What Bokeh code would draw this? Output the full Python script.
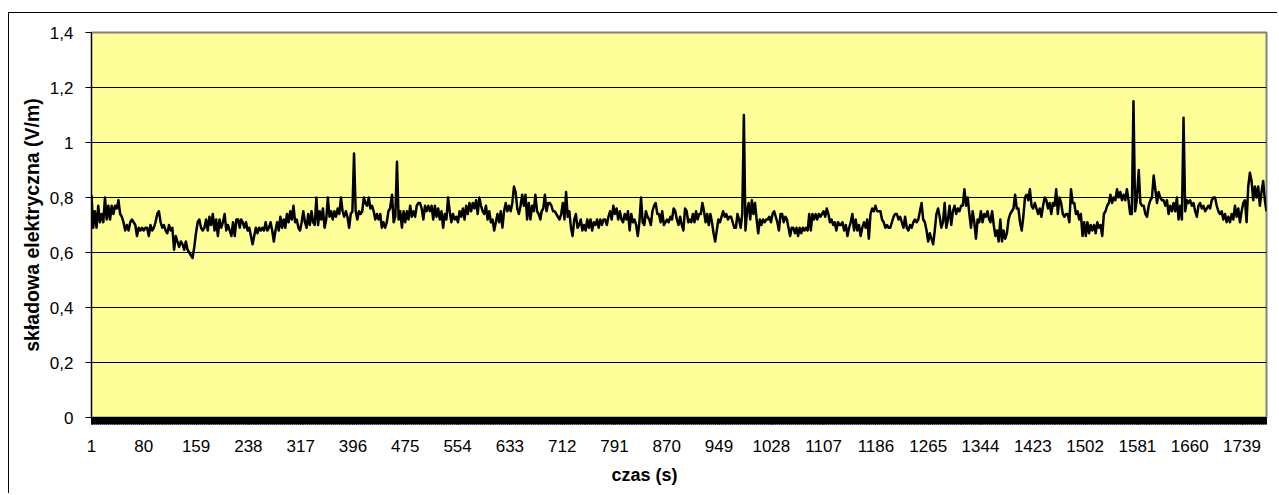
import numpy as np
from bokeh.plotting import figure
from bokeh.models import Range1d, FixedTicker, Title, CustomJSTickFormatter
from bokeh.embed import file_html
from bokeh.resources import INLINE

# ---- data: electric field component (V/m) vs time (s), read in segments ----
seg_a_range = (1, 225)
seg_a = [0.81, 0.69, 0.75, 0.69, 0.77, 0.71, 0.74, 0.71, 0.80, 0.72,
         0.77, 0.72, 0.77, 0.74, 0.77, 0.76, 0.79, 0.74, 0.73, 0.71,
         0.68, 0.70, 0.68, 0.71, 0.72, 0.71, 0.70, 0.66, 0.69, 0.68,
         0.69, 0.68, 0.69, 0.69, 0.66, 0.70, 0.68, 0.69, 0.71, 0.74,
         0.75, 0.71, 0.69, 0.70, 0.68, 0.67, 0.70, 0.68, 0.69, 0.61,
         0.66, 0.64, 0.62, 0.64, 0.63, 0.61, 0.64, 0.61, 0.60, 0.59,
         0.58, 0.62, 0.67, 0.71, 0.72, 0.69, 0.68, 0.69, 0.72, 0.68,
         0.73, 0.70, 0.74, 0.68, 0.72, 0.66, 0.72, 0.69, 0.71, 0.74,
         0.68, 0.70, 0.68, 0.66, 0.71, 0.66, 0.72, 0.72, 0.69]

seg_b_range = (227, 452)
seg_b = [0.72, 0.71, 0.69, 0.71, 0.68, 0.69, 0.66, 0.63, 0.66, 0.69,
         0.67, 0.69, 0.68, 0.69, 0.68, 0.71, 0.68, 0.69, 0.71, 0.68,
         0.64, 0.68, 0.71, 0.68, 0.73, 0.69, 0.72, 0.69, 0.74, 0.71,
         0.75, 0.72, 0.77, 0.71, 0.72, 0.69, 0.68, 0.71, 0.75, 0.71,
         0.69, 0.74, 0.70, 0.75, 0.71, 0.70, 0.80, 0.70, 0.75, 0.72,
         0.76, 0.69, 0.72, 0.80, 0.73, 0.75, 0.72, 0.75, 0.73, 0.76,
         0.74, 0.80, 0.75, 0.73, 0.75, 0.73, 0.69, 0.74, 0.75, 0.96,
         0.75, 0.72, 0.75, 0.74, 0.75, 0.80, 0.78, 0.77, 0.80, 0.76,
         0.77, 0.75, 0.72, 0.74, 0.72, 0.74, 0.69, 0.71, 0.69, 0.71,
         0.75, 0.76]

seg_c_range = (455, 679)
seg_c = [0.81, 0.71, 0.73, 0.93, 0.72, 0.75, 0.69, 0.75, 0.71, 0.75,
         0.72, 0.77, 0.73, 0.75, 0.73, 0.77, 0.78, 0.78, 0.76, 0.72,
         0.77, 0.75, 0.77, 0.75, 0.77, 0.72, 0.77, 0.73, 0.76, 0.72,
         0.75, 0.69, 0.74, 0.72, 0.80, 0.75, 0.71, 0.74, 0.72, 0.73,
         0.71, 0.75, 0.73, 0.76, 0.72, 0.77, 0.74, 0.78, 0.75, 0.78,
         0.76, 0.79, 0.74, 0.80, 0.77, 0.75, 0.74, 0.77, 0.72, 0.75,
         0.71, 0.72, 0.68, 0.71, 0.74, 0.71, 0.75, 0.69, 0.75, 0.78,
         0.75, 0.77, 0.75, 0.78, 0.84, 0.82, 0.76, 0.74, 0.77, 0.81,
         0.77, 0.81, 0.72, 0.78, 0.72, 0.77, 0.75, 0.81, 0.75, 0.74,
         0.72]

seg_d_range = (681, 905)
seg_d = [0.75, 0.76, 0.81, 0.75, 0.78, 0.78, 0.77, 0.75, 0.75, 0.74,
         0.73, 0.72, 0.74, 0.78, 0.72, 0.82, 0.73, 0.75, 0.69, 0.66,
         0.72, 0.74, 0.69, 0.70, 0.72, 0.68, 0.70, 0.68, 0.72, 0.69,
         0.72, 0.68, 0.71, 0.70, 0.72, 0.69, 0.72, 0.70, 0.72, 0.72,
         0.70, 0.73, 0.75, 0.72, 0.77, 0.74, 0.76, 0.72, 0.75, 0.72,
         0.71, 0.74, 0.72, 0.75, 0.68, 0.74, 0.71, 0.72, 0.70, 0.66,
         0.71, 0.80, 0.71, 0.70, 0.75, 0.73, 0.72, 0.70, 0.75, 0.77,
         0.78, 0.74, 0.74, 0.71, 0.75, 0.70, 0.71, 0.72, 0.71, 0.73,
         0.72, 0.76, 0.75, 0.72, 0.70, 0.73, 0.70, 0.68, 0.76, 0.75,
         0.71, 0.72]

seg_e_range = (907, 1131)
seg_e = [0.71, 0.74, 0.71, 0.75, 0.72, 0.74, 0.74, 0.78, 0.75, 0.71,
         0.74, 0.70, 0.74, 0.71, 0.67, 0.64, 0.68, 0.72, 0.71, 0.73,
         0.75, 0.73, 0.74, 0.72, 0.73, 0.73, 0.71, 0.69, 0.69, 0.74,
         0.72, 0.69, 0.74, 1.10, 0.68, 0.75, 0.78, 0.72, 0.79, 0.74,
         0.78, 0.72, 0.67, 0.72, 0.70, 0.72, 0.71, 0.72, 0.72, 0.73,
         0.71, 0.74, 0.75, 0.73, 0.71, 0.68, 0.74, 0.74, 0.71, 0.73,
         0.72, 0.69, 0.66, 0.69, 0.69, 0.67, 0.69, 0.66, 0.69, 0.67,
         0.69, 0.68, 0.69, 0.68, 0.74, 0.68, 0.74, 0.72, 0.74, 0.72,
         0.74, 0.73, 0.74, 0.75, 0.73, 0.76, 0.74, 0.71, 0.72, 0.70,
         0.71, 0.68, 0.71, 0.70]

seg_f_range = (1133, 1357)
seg_f = [0.70, 0.71, 0.68, 0.70, 0.66, 0.69, 0.71, 0.74, 0.68, 0.72,
         0.68, 0.70, 0.66, 0.69, 0.71, 0.69, 0.72, 0.65, 0.74, 0.76,
         0.75, 0.77, 0.75, 0.75, 0.75, 0.72, 0.71, 0.69, 0.70, 0.69,
         0.69, 0.71, 0.73, 0.74, 0.74, 0.72, 0.73, 0.71, 0.69, 0.73,
         0.69, 0.68, 0.70, 0.69, 0.71, 0.72, 0.71, 0.72, 0.75, 0.78,
         0.72, 0.71, 0.68, 0.64, 0.67, 0.65, 0.63, 0.68, 0.74, 0.76,
         0.73, 0.69, 0.71, 0.78, 0.69, 0.72, 0.77, 0.70, 0.75, 0.77,
         0.74, 0.76, 0.75, 0.77, 0.77, 0.83, 0.77, 0.80, 0.74, 0.69,
         0.75, 0.71, 0.65, 0.72, 0.71, 0.75, 0.71, 0.74, 0.73, 0.75,
         0.72]

seg_g_range = (1359, 1580)
seg_g = [0.71, 0.75, 0.70, 0.66, 0.68, 0.64, 0.72, 0.64, 0.68, 0.65,
         0.67, 0.72, 0.74, 0.75, 0.76, 0.81, 0.76, 0.76, 0.71, 0.68,
         0.73, 0.80, 0.81, 0.79, 0.83, 0.77, 0.76, 0.78, 0.76, 0.74,
         0.76, 0.73, 0.77, 0.80, 0.79, 0.76, 0.78, 0.74, 0.78, 0.77,
         0.83, 0.74, 0.80, 0.78, 0.74, 0.73, 0.74, 0.74, 0.71, 0.83,
         0.78, 0.78, 0.74, 0.75, 0.72, 0.74, 0.66, 0.71, 0.66, 0.71,
         0.67, 0.70, 0.68, 0.70, 0.67, 0.71, 0.69, 0.70, 0.66, 0.74,
         0.75, 0.77, 0.78, 0.81, 0.78, 0.80, 0.79, 0.83, 0.80, 0.82,
         0.79, 0.81, 0.79, 0.83, 0.79, 0.74, 0.74, 1.15, 0.75, 0.79]

seg_h_range = (1583, 1776)
seg_h = [0.90, 0.78, 0.77, 0.77, 0.74, 0.73, 0.77, 0.79, 0.80, 0.88,
         0.83, 0.78, 0.82, 0.80, 0.79, 0.79, 0.77, 0.79, 0.74, 0.77,
         0.75, 0.78, 0.75, 0.80, 0.72, 0.77, 0.72, 1.09, 0.75, 0.79,
         0.78, 0.79, 0.77, 0.78, 0.75, 0.73, 0.77, 0.78, 0.76, 0.77,
         0.75, 0.76, 0.77, 0.76, 0.79, 0.80, 0.80, 0.77, 0.75, 0.74,
         0.75, 0.72, 0.74, 0.71, 0.73, 0.71, 0.74, 0.72, 0.77, 0.73,
         0.76, 0.71, 0.75, 0.78, 0.79, 0.71, 0.84, 0.89, 0.86, 0.79,
         0.84, 0.80, 0.84, 0.77, 0.82, 0.86, 0.79, 0.75]

n_samples = 1776
x_ticks = [1, 80, 159, 238, 317, 396, 475, 554, 633, 712, 791, 870,
           949, 1028, 1107, 1186, 1265, 1344, 1423, 1502, 1581, 1660, 1739]
y_ticks = [0, 0.2, 0.4, 0.6, 0.8, 1.0, 1.2, 1.4]
y_tick_labels = ["0", "0,2", "0,4", "0,6", "0,8", "1", "1,2", "1,4"]
x_title = "czas (s)"
y_title = "składowa elektryczna (V/m)"

segments = [(seg_a_range, seg_a), (seg_b_range, seg_b), (seg_c_range, seg_c),
            (seg_d_range, seg_d), (seg_e_range, seg_e), (seg_f_range, seg_f),
            (seg_g_range, seg_g), (seg_h_range, seg_h)]
t = np.concatenate([np.linspace(r[0], r[1], len(v)) for r, v in segments])
e = np.concatenate([np.asarray(v, dtype=float) for r, v in segments])

FONT = "Liberation Sans"

p = figure(width=1269, height=481, output_backend="svg", toolbar_location=None,
           x_range=Range1d(1, n_samples), y_range=Range1d(0, 1.4),
           min_border_left=82, min_border_right=12, min_border_top=19,
           min_border_bottom=77,
           styles={"margin-top": "12px", "margin-left": "8px",
                   "border-top": "1px solid #000",
                   "border-left": "1px solid #000"})
p.background_fill_color = "#FFFF99"
p.border_fill_color = "white"
p.outline_line_color = "#808080"
p.outline_line_width = 2

p.line(t, e, line_color="black", line_width=2.5, line_join="round")

# x axis: a tick mark at every sample, labels every 79 s
p.xaxis.ticker = FixedTicker(ticks=x_ticks, minor_ticks=list(range(1, n_samples + 1)))
p.xaxis.axis_line_color = "black"
p.xaxis.major_tick_out = 7
p.xaxis.major_tick_in = 0
p.xaxis.minor_tick_out = 7
p.xaxis.minor_tick_in = 0
p.xaxis.minor_tick_line_color = "black"
p.xaxis.major_tick_line_color = "black"
p.xaxis.major_label_standoff = 15
p.xaxis.major_label_text_font = FONT
p.xaxis.major_label_text_font_size = "17px"
p.xaxis.major_label_text_color = "black"

# y axis
p.yaxis.ticker = FixedTicker(ticks=y_ticks, minor_ticks=[])
p.yaxis.formatter = CustomJSTickFormatter(
    args=dict(yt=y_ticks, yl=y_tick_labels),
    code="const i = yt.findIndex(v => Math.abs(v - tick) < 1e-9); return i >= 0 ? yl[i] : '';")
p.yaxis.axis_line_color = "black"
p.yaxis.major_tick_out = 6
p.yaxis.major_tick_in = 0
p.yaxis.major_tick_line_color = "black"
p.yaxis.major_label_standoff = 12
p.yaxis.major_label_text_font = FONT
p.yaxis.major_label_text_font_size = "17px"
p.yaxis.major_label_text_color = "black"
p.yaxis.axis_label = y_title
p.yaxis.axis_label_text_font = FONT
p.yaxis.axis_label_text_font_style = "bold"
p.yaxis.axis_label_text_font_size = "19.5px"
p.yaxis.axis_label_text_color = "black"
p.yaxis.axis_label_standoff = 4

p.xgrid.visible = False
p.ygrid.ticker = FixedTicker(ticks=y_ticks[1:-1])
p.ygrid.grid_line_color = "black"
p.ygrid.grid_line_width = 1

p.add_layout(Title(text=x_title, align="left", offset=520, text_font=FONT,
                   text_font_style="bold", text_font_size="18px",
                   text_color="black", standoff=16), "below")

open("out.html", "w").write(file_html(p, INLINE))
